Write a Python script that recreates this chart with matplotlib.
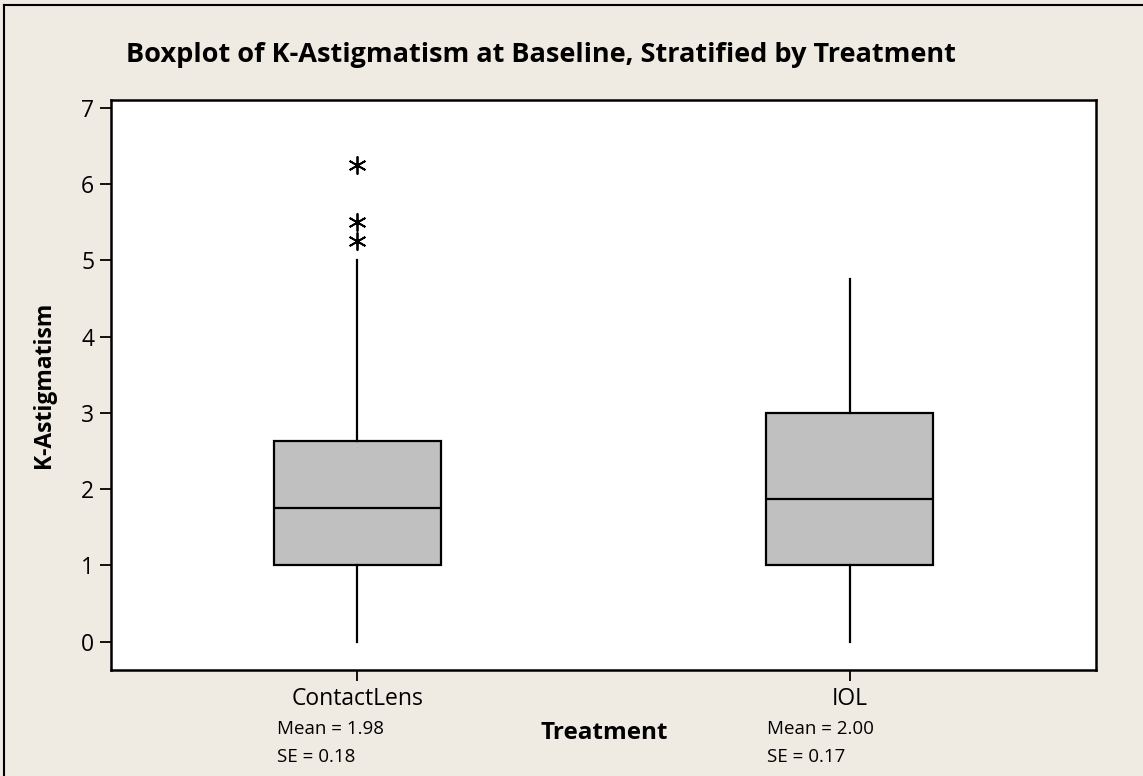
import matplotlib.pyplot as plt
from matplotlib.lines import Line2D

# ── Data ──────────────────────────────────────────────────────────────────
groups = ["ContactLens", "IOL"]
whislo = [0.0, 0.0]
q1 = [1.0, 1.0]
med = [1.75, 1.87]
q3 = [2.63, 3.0]
whishi = [5.0, 4.75]
fliers = [[5.25, 5.5, 6.25], []]
means = [1.98, 2.00]
ses = [0.18, 0.17]

bg = "#efebe2"
plt.rcParams["font.family"] = ["Open Sans", "DejaVu Sans"]

fig = plt.figure(figsize=(11.43, 7.76), dpi=100, facecolor=bg)
ax = fig.add_axes([111 / 1143, 1 - 670 / 776, (1096 - 111) / 1143, (670 - 100) / 776])
ax.set_facecolor("white")

stats = []
for i, g in enumerate(groups):
    stats.append(dict(label=g, whislo=whislo[i], q1=q1[i], med=med[i],
                      q3=q3[i], whishi=whishi[i], fliers=fliers[i]))

ax.bxp(stats, positions=[1, 2], widths=0.34, patch_artist=True, showcaps=False,
       boxprops=dict(facecolor="#c0c0c0", edgecolor="black", linewidth=1.6),
       medianprops=dict(color="black", linewidth=1.6),
       whiskerprops=dict(color="black", linewidth=1.6),
       flierprops=dict(marker=(6, 2, 0), markersize=13, markeredgecolor="black",
                       markeredgewidth=1.3))

ax.set_xlim(0.5, 2.5)
ax.set_ylim(-0.37, 7.1)
ax.set_yticks(range(0, 8))
ax.tick_params(axis="both", direction="out", length=8, width=1.3, labelsize=16.5,
               pad=4)
for s in ax.spines.values():
    s.set_linewidth(1.8)

ax.set_ylabel("K-Astigmatism", fontsize=16.5, fontweight="bold", labelpad=18)
fig.text(541 / 1143, 1 - 55 / 776,
         "Boxplot of K-Astigmatism at Baseline, Stratified by Treatment",
         ha="center", va="center", fontsize=19.5, fontweight="bold")
fig.text(604 / 1143, 1 - 733 / 776, "Treatment", ha="center", va="center",
         fontsize=17.5, fontweight="bold")

xleft = [277, 767]
for i in range(len(groups)):
    fig.text(xleft[i] / 1143, 1 - 729 / 776, f"Mean = {means[i]:.2f}",
             ha="left", va="center", fontsize=13.5)
    fig.text(xleft[i] / 1143, 1 - 757 / 776, f"SE = {ses[i]:.2f}",
             ha="left", va="center", fontsize=13.5)

# partial outer frame (top and left, as in the screenshot)
fig.add_artist(Line2D([4 / 1143, 4 / 1143], [0, 1 - 5 / 776], color="black",
                      lw=1.5, transform=fig.transFigure))
fig.add_artist(Line2D([4 / 1143, 1], [1 - 5 / 776, 1 - 5 / 776], color="black",
                      lw=1.5, transform=fig.transFigure))

fig.savefig("out.png", dpi=100, facecolor=bg)
